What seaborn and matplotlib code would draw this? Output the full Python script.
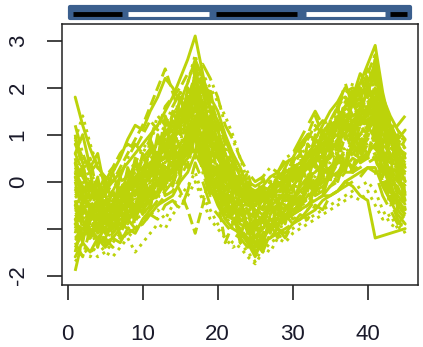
import numpy as np
import pandas as pd
import matplotlib
matplotlib.use("Agg")
import matplotlib.pyplot as plt
import seaborn as sns
from matplotlib.patches import Rectangle

# time points 1..45
time_points = list(range(1, 46))

# standardised expression profiles (one list per gene)
gene_profiles = [
    [1.8, 1.2, 0.7, 0.3, 0.1, 0.0, 0.2, 0.4, 0.6, 0.8, 1.0, 1.2, 1.5, 1.8, 2.2, 2.6, 3.1, 2.3, 1.5, 0.8, 0.3, 0.0, -0.2, -0.4, -0.5, -0.3, -0.2, -0.1, 0.0, 0.1, 0.3, 0.5, 0.7, 0.9, 1.1, 1.3, 1.6, 1.8, 2.1, 2.5, 2.9, 1.9, 1.2, 0.8, 0.5],
    [0.6, 0.2, -0.1, -0.3, -0.2, 0.0, 0.3, 0.6, 0.9, 1.2, 1.6, 2.0, 2.4, 1.9, 1.4, 1.6, 2.0, 1.5, 1.2, 0.9, 0.5, 0.2, 0.0, -0.2, -0.3, -0.2, -0.3, -0.1, 0.1, 0.3, 0.6, 1.0, 1.4, 1.0, 0.8, 1.2, 1.7, 1.5, 1.3, 1.6, 2.0, 1.4, 1.0, 0.7, 0.6],
    [-1.7, -1.5, -1.4, -1.6, -1.5, -1.3, -1.1, -1.2, -1.0, -0.9, -0.7, -0.6, -0.8, -0.5, -0.3, -0.1, 0.2, -0.3, -0.6, -0.9, -1.1, -1.3, -1.4, -1.6, -1.75, -1.5, -1.3, -1.2, -1.1, -1.0, -0.9, -0.8, -0.7, -0.6, -0.5, -0.4, -0.3, -0.2, -0.1, 0.0, -0.2, -0.6, -0.9, -1.0, -0.9],
    [0.1, -0.2, -0.1, -0.4, -0.3, -0.5, -0.2, -0.3, 0.0, 0.1, 0.4, 0.5, 0.8, 0.9, 1.3, 1.4, 1.8, 1.3, 1.0, 0.5, 0.4, 0.0, -0.1, -0.4, -0.3, -0.4, -0.2, -0.3, 0.0, 0.0, 0.2, 0.3, 0.6, 0.5, 0.9, 0.8, 1.2, 1.0, 1.3, 1.2, 1.5, 1.0, 0.8, 0.3, 0.3],
    [-0.5, -0.6, -0.8, -0.9, -0.8, -0.6, -0.5, -0.3, -0.2, 0.0, 0.3, 0.5, 0.7, 0.9, 1.1, 1.3, 1.7, 1.2, 0.8, 0.4, 0.1, -0.1, -0.3, -0.5, -0.6, -0.4, -0.2, 0.0, 0.3, 0.6, 0.9, 1.2, 1.5, 1.2, 1.0, 1.5, 2.1, 1.6, 1.4, 1.6, 1.9, 1.2, 0.7, 0.4, 0.2],
    [-0.9, -1.0, -1.1, -1.2, -1.3, -1.2, -1.0, -0.8, -0.7, -0.5, -0.4, -0.2, 0.0, 0.2, 0.5, 0.7, 1.0, 0.4, -0.1, -0.5, -0.8, -1.0, -1.1, -1.3, -1.4, -1.2, -1.0, -0.9, -0.8, -0.7, -0.6, -0.5, -0.4, -0.3, -0.3, -0.2, 0.0, -0.1, -0.3, -0.4, -1.2, -1.15, -1.1, -1.05, -1.0],
    [-0.7, -0.6, -0.9, -0.8, -1.1, -0.9, -1.0, -0.7, -0.8, -0.4, -0.4, -0.1, 0.1, 0.2, 0.6, 0.7, 1.1, 0.6, 0.4, -0.1, -0.3, -0.6, -0.6, -1.0, -0.9, -1.0, -0.8, -0.9, -0.6, -0.7, -0.4, -0.4, -0.1, 0.0, 0.1, 0.4, 0.4, 0.6, 0.5, 0.8, 0.7, 0.5, 0.0, -0.1, -0.5],
    [-0.3, -0.5, -0.4, -0.7, -0.6, -0.8, -0.5, -0.6, -0.3, -0.3, 0.1, 0.1, 0.5, 0.5, 1.0, 1.0, 1.5, 1.1, 0.5, 0.4, -0.1, -0.1, -0.5, -0.5, -0.8, -0.5, -0.7, -0.4, -0.5, -0.2, -0.3, 0.1, 0.1, 0.4, 0.4, 0.7, 0.7, 0.9, 0.8, 1.1, 1.0, 0.8, 0.3, 0.2, -0.2],
    [1.2, 0.6, 0.2, -0.1, -0.2, -0.1, 0.0, 0.1, 0.3, 0.4, 0.6, 0.8, 1.0, 1.3, 1.5, 1.8, 2.2, 1.7, 1.2, 0.9, 0.6, 0.4, 0.2, 0.0, -0.1, 0.0, 0.0, 0.1, 0.2, 0.3, 0.4, 0.6, 0.8, 0.9, 1.1, 1.2, 1.4, 1.4, 1.5, 1.7, 1.8, 1.3, 1.0, 0.7, 0.5],
    [-1.2, -1.0, -1.1, -1.3, -1.2, -1.4, -1.2, -1.1, -1.0, -0.8, -0.6, -0.4, -0.2, 0.0, 0.3, 0.5, 0.8, 0.4, 0.0, -0.3, -0.6, -0.8, -1.0, -1.2, -1.3, -1.2, -1.2, -1.1, -1.0, -0.9, -0.8, -0.6, -0.4, -0.3, -0.1, 0.0, 0.2, 0.2, 0.3, 0.4, 0.5, 0.1, -0.2, -0.5, -0.7],
    [-0.5, -0.3, -0.6, -0.5, -0.4, -0.6, -0.4, -0.2, -0.1, 0.1, 0.2, 0.4, 0.5, 0.7, 0.8, 1.0, 1.6, 2.0, 1.6, 1.1, 0.6, 0.2, -0.2, -0.4, -0.6, -0.7, -0.5, -0.6, -0.3, -0.4, -0.1, 0.1, 0.2, 0.4, 0.6, 0.9, 1.0, 1.3, 1.2, 1.5, 1.7, 1.2, 0.9, 0.5, 0.3],
    [-1.0, -1.2, -0.9, -1.0, -1.3, -1.1, -0.9, -1.0, -0.8, -0.7, -0.5, -0.5, -0.3, -0.2, 0.1, 0.4, 0.9, 0.5, 0.1, -0.2, -0.4, -0.7, -0.9, -1.0, -1.2, -1.0, -0.9, -1.0, -0.8, -0.7, -0.6, -0.5, -0.3, -0.2, -0.1, 0.1, 0.3, 0.2, 0.4, 0.5, 0.6, 0.2, -0.3, -0.6, -0.8],
    [0.9, 1.4, 0.8, 0.3, -0.1, -0.3, -0.2, -0.4, -0.2, 0.0, 0.2, 0.3, 0.6, 0.8, 1.0, 1.3, 1.6, 1.2, 0.8, 0.3, 0.1, -0.3, -0.4, -0.6, -0.5, -0.6, -0.4, -0.4, -0.2, -0.1, 0.1, 0.2, 0.4, 0.6, 0.7, 0.9, 1.1, 1.0, 1.2, 1.3, 1.4, 0.9, 0.6, 0.2, 0.1],
    [-1.4, -1.1, -1.2, -0.9, -1.0, -0.8, -0.9, -0.7, -0.5, -0.4, -0.2, 0.0, 0.2, 0.4, 0.7, 0.9, 1.3, 0.9, 0.5, 0.1, -0.2, -0.5, -0.7, -0.9, -1.1, -0.9, -0.8, -0.8, -0.6, -0.5, -0.3, -0.2, 0.0, 0.2, 0.3, 0.5, 0.6, 0.7, 0.7, 0.9, 1.2, 0.6, 0.2, -0.2, -0.4],
    [-0.2, -0.4, -0.3, -0.5, -0.6, -0.5, -0.3, -0.4, -0.2, -0.1, 0.1, 0.3, 0.4, 0.6, 0.8, 1.1, 1.2, 0.8, 0.5, 0.2, 0.0, -0.2, -0.3, -0.4, -0.5, -0.4, -0.3, -0.2, -0.1, 0.1, 0.2, 0.4, 0.6, 0.8, 1.0, 1.2, 1.5, 1.6, 1.8, 2.1, 2.4, 1.6, 1.1, 0.6, 0.4],
    [-1.6, -1.3, -1.5, -1.2, -1.4, -1.2, -1.3, -1.0, -1.1, -0.8, -0.7, -0.5, -0.4, -0.3, 0.0, 0.2, 0.6, 0.3, -0.2, -0.4, -0.7, -0.8, -1.1, -1.2, -1.5, -1.3, -1.2, -1.0, -1.1, -0.9, -0.8, -0.7, -0.6, -0.4, -0.3, -0.2, 0.0, 0.1, 0.2, 0.3, 0.3, -0.1, -0.4, -0.7, -0.9],
    [-0.6, -0.8, -0.7, -0.9, -0.8, -0.7, -0.8, -0.6, -0.5, -0.5, -0.3, -0.2, -0.1, 0.1, -0.2, -0.6, -1.1, -0.5, 0.2, -0.4, -1.3, -0.9, -0.7, -0.8, -1.0, -0.8, -0.7, -0.7, -0.5, -0.6, -0.4, -0.3, -0.2, 0.0, 0.2, 0.1, 0.3, 0.5, 0.4, 0.6, 0.5, 0.0, -0.3, -0.4, -0.6],
    [0.3, 0.0, -0.2, -0.3, -0.4, -0.3, -0.1, 0.0, 0.2, 0.3, 0.6, 0.8, 1.1, 1.4, 1.7, 2.1, 2.7, 2.0, 1.3, 0.7, 0.3, 0.0, -0.3, -0.4, -0.6, -0.5, -0.4, -0.3, -0.2, 0.0, 0.1, 0.3, 0.4, 0.6, 0.8, 1.0, 1.3, 1.4, 1.6, 1.9, 2.3, 1.5, 0.9, 0.6, 0.2],
    [-0.8, -0.6, -0.7, -0.6, -0.9, -0.7, -0.6, -0.5, -0.6, -0.2, -0.1, 0.0, 0.3, 0.3, 0.6, 0.9, 1.2, 0.8, 0.3, 0.1, -0.2, -0.4, -0.5, -0.7, -0.7, -0.8, -0.6, -0.5, -0.6, -0.3, -0.3, -0.1, 0.0, 0.2, 0.3, 0.4, 0.6, 0.6, 0.8, 0.8, 0.9, 0.4, 0.1, -0.2, -0.3],
    [0.2, -0.1, -0.3, -0.2, -0.5, -0.4, -0.3, -0.1, 0.0, 0.2, 0.4, 0.5, 0.8, 1.0, 1.2, 1.5, 1.9, 1.4, 0.9, 0.6, 0.2, -0.1, -0.2, -0.4, -0.4, -0.3, -0.4, -0.2, -0.1, 0.1, 0.3, 0.5, 0.7, 0.8, 0.7, 1.0, 1.2, 1.1, 1.3, 1.4, 1.6, 1.2, 1.0, 1.2, 1.4],
    [-0.9, -1.1, -1.0, -1.2, -1.0, -1.0, -0.8, -0.8, -0.6, -0.6, -0.4, -0.3, 0.0, 0.1, 0.4, 0.6, 1.0, 0.6, 0.2, -0.1, -0.5, -0.8, -1.0, -1.3, -1.6, -1.2, -1.0, -0.8, -0.8, -0.6, -0.5, -0.3, -0.2, -0.1, 0.1, 0.2, 0.4, 0.3, 0.5, 0.6, 0.8, 0.3, -0.1, -0.4, -0.6],
    [-0.1, -0.3, -0.5, -0.3, -0.6, -0.4, -0.2, -0.2, 0.1, 0.3, 0.5, 0.6, 0.9, 1.2, 1.4, 1.7, 2.1, 1.5, 1.0, 0.6, 0.2, 0.0, -0.2, -0.3, -0.5, -0.2, -0.3, -0.1, 0.0, 0.2, 0.3, 0.5, 0.7, 0.7, 1.0, 1.1, 1.4, 1.3, 1.5, 1.8, 2.0, 1.4, 0.8, 0.5, 0.0],
    [-1.1, -0.4, -0.9, -0.2, -0.8, -1.2, -0.3, -0.9, 0.1, -0.5, 0.4, -0.2, 0.9, 0.3, 1.5, 0.8, 2.3, 0.9, 1.4, -0.2, 0.3, -0.9, -0.2, -1.1, -0.5, -1.2, -0.3, -0.8, 0.1, -0.6, 0.5, -0.1, 0.9, 0.2, 1.3, 0.5, 1.7, 0.8, 1.9, 0.9, 2.2, 0.3, 0.9, -0.5, 0.2],
    [0.5, -0.3, 0.2, -0.6, 0.0, -0.9, -0.1, -0.5, 0.4, -0.1, 0.8, 0.2, 1.2, 0.5, 1.9, 0.9, 2.4, 1.1, 0.5, 0.9, -0.4, 0.1, -0.7, -0.2, -1.0, -0.1, -0.6, 0.2, -0.4, 0.4, 0.0, 0.8, 0.3, 1.1, 0.6, 1.6, 0.9, 2.0, 0.6, 1.7, 1.3, 1.6, 0.4, 0.9, -0.3],
    [-1.5, -0.8, -1.3, -0.6, -1.1, -0.5, -1.2, -0.3, -0.9, 0.0, -0.6, 0.4, -0.3, 0.8, 0.1, 1.3, 0.6, 1.6, 0.2, 0.7, -0.5, -0.2, -1.2, -0.6, -1.4, -0.7, -1.1, -0.4, -0.9, -0.1, -0.6, 0.2, -0.3, 0.6, 0.0, 0.9, 0.3, 1.3, 0.5, 1.0, 1.4, 0.2, 0.6, -0.6, -0.2],
    [0.8, 0.4, -0.4, 0.1, -0.7, -0.2, -0.5, 0.3, -0.1, 0.6, 0.2, 1.0, 0.6, 1.5, 1.1, 2.0, 1.6, 2.2, 0.8, 1.2, 0.0, 0.4, -0.5, -0.1, -0.8, -0.3, -0.5, 0.0, -0.2, 0.3, 0.1, 0.6, 0.4, 1.0, 0.7, 1.4, 1.1, 1.7, 1.3, 2.1, 1.5, 0.8, 1.1, 0.2, 0.6],
    [-0.4, -1.0, -0.6, -1.3, -0.7, -1.0, -0.4, -0.8, -0.2, -0.5, 0.3, -0.1, 0.6, 0.4, 0.3, 1.2, 1.8, 0.4, 0.9, 0.1, -0.6, -0.3, -0.9, -0.6, -1.2, -0.9, -0.5, -0.8, -0.2, -0.5, 0.0, -0.2, 0.4, 0.1, 0.7, 0.4, 1.0, 0.7, 1.2, 1.0, 1.6, 0.5, 0.1, 0.4, -0.6],
    [-0.2, 0.3, -0.5, -0.1, -1.0, -0.4, -0.7, -0.1, -0.4, 0.2, 0.0, 0.7, 0.3, 1.0, 0.8, 1.6, 2.1, 1.3, 1.8, 0.6, 0.8, -0.1, 0.1, -0.7, -0.3, -0.9, -0.2, -0.5, 0.2, -0.2, 0.4, 0.2, 0.8, 0.5, 1.2, 0.9, 1.5, 1.2, 1.9, 1.5, 2.5, 1.1, 0.5, 0.8, 0.1],
    [-1.3, -1.6, -1.0, -1.4, -0.8, -1.1, -0.6, -0.9, -0.4, -0.7, -0.1, -0.4, 0.2, -0.1, 0.5, 0.3, 1.0, 0.2, -0.3, -0.1, -0.8, -0.6, -1.3, -1.0, -1.5, -1.1, -0.9, -1.2, -0.7, -0.9, -0.4, -0.6, -0.1, -0.3, 0.2, 0.0, 0.5, 0.3, 0.8, 0.6, 1.1, 0.0, -0.4, -0.8, -1.1],
    [0.4, -0.5, 0.0, -0.8, -0.3, -0.6, 0.1, -0.3, 0.5, 0.1, 0.9, 0.5, 1.4, 1.0, 1.8, 1.4, 2.5, 1.9, 1.3, 0.5, 0.7, -0.3, 0.2, -0.5, -0.2, -0.6, 0.0, -0.4, 0.3, 0.0, 0.6, 0.3, 1.0, 0.6, 1.3, 1.0, 1.8, 1.4, 2.2, 1.8, 2.6, 1.7, 1.2, 0.6, 0.9],
    [-0.8, -1.3, -0.5, -1.0, -0.4, -0.8, -0.5, -0.2, -0.6, 0.1, -0.3, 0.5, 0.0, 0.8, 0.4, 0.6, 1.4, 0.9, 0.0, 0.3, -0.3, -0.7, -0.4, -1.0, -0.8, -1.4, -0.7, -0.5, -0.9, -0.3, -0.6, 0.0, -0.3, 0.3, 0.1, 0.6, 0.2, 0.9, 0.4, 1.2, 0.9, 0.6, -0.2, 0.2, -0.4],
    [1.0, 0.2, 0.5, -0.3, 0.1, -0.5, -0.2, 0.2, 0.0, 0.5, 0.3, 0.9, 0.7, 1.3, 1.0, 1.7, 2.3, 1.6, 2.0, 1.0, 0.4, 0.6, -0.1, 0.2, -0.4, 0.1, -0.3, 0.2, 0.0, 0.5, 0.2, 0.8, 0.6, 1.1, 0.8, 1.5, 1.2, 1.9, 1.7, 2.3, 2.7, 1.3, 0.9, 1.0, 0.7],
    [-0.6, -0.2, -1.1, -0.5, -1.4, -0.9, -1.1, -0.6, -0.9, -0.3, -0.5, 0.1, -0.2, 0.5, 0.2, 0.9, 0.5, 1.2, 0.4, -0.2, -0.7, -1.0, -0.8, -1.3, -1.1, -0.7, -1.0, -0.6, -0.8, -0.3, -0.5, 0.0, -0.2, 0.4, 0.0, 0.7, 0.4, 1.0, 0.7, 0.5, 1.1, 0.1, -0.5, -0.3, -0.8],
    [0.0, -0.7, -0.3, -1.0, -0.5, -0.2, -0.6, 0.0, -0.3, 0.3, 0.1, 0.6, 0.4, 1.1, 0.7, 1.5, 1.9, 1.1, 0.6, 0.3, -0.2, 0.1, -0.5, -0.2, -0.7, -0.4, -0.1, -0.5, 0.1, -0.2, 0.3, 0.0, 0.6, 0.3, 0.9, 0.6, 1.3, 0.9, 1.6, 1.2, 1.8, 0.9, 0.5, 0.0, 0.4],
    [-1.9, -1.2, -0.8, -1.1, -0.6, -1.0, -0.7, -0.4, -0.8, -0.2, -0.5, 0.2, -0.1, 0.5, 0.3, 0.8, 1.3, 0.5, 0.1, -0.4, -0.2, -0.9, -0.6, -1.1, -0.9, -1.3, -0.8, -1.0, -0.5, -0.8, -0.3, -0.5, 0.0, -0.2, 0.3, 0.1, 0.6, 0.2, 0.9, 0.5, 1.3, 0.7, 0.0, -0.5, -0.7],
    [0.6, 1.0, 0.3, 0.6, -0.2, 0.2, -0.3, 0.0, 0.4, 0.2, 0.7, 0.5, 1.1, 0.8, 1.5, 1.3, 2.0, 1.5, 1.1, 0.8, 0.3, 0.0, -0.3, 0.0, -0.4, -0.1, -0.5, 0.0, -0.2, 0.2, 0.0, 0.4, 0.6, 0.4, 0.9, 1.0, 1.3, 1.1, 1.6, 1.4, 2.0, 1.5, 1.2, 0.9, 1.1],
    [-1.0, -0.5, -0.8, -0.4, -0.9, -0.6, -1.0, -0.5, -0.7, -0.3, -0.2, 0.2, 0.0, 0.3, 0.4, 0.7, 1.1, 0.7, 0.3, 0.1, -0.1, -0.4, -0.6, -0.9, -1.0, -0.8, -1.1, -0.7, -0.8, -0.5, -0.4, -0.2, 0.1, 0.0, 0.3, 0.5, 0.5, 0.7, 1.0, 1.1, 1.3, 0.8, 0.3, 0.0, -0.2],
    [0.2, -0.6, -0.2, -0.5, -1.0, -0.7, -0.4, -0.7, -0.1, 0.0, 0.4, 0.2, 0.8, 0.7, 1.2, 1.0, 1.7, 1.3, 0.7, 0.3, 0.0, -0.3, -0.1, -0.6, -0.8, -0.5, -0.6, -0.3, -0.4, -0.1, 0.0, 0.2, 0.5, 0.3, 0.6, 0.9, 1.1, 1.2, 1.4, 1.3, 1.7, 1.1, 0.5, 0.3, -0.1],
    [-0.5, -0.9, -1.2, -0.8, -0.6, -1.0, -0.7, -0.9, -0.5, -0.6, -0.1, -0.3, 0.3, 0.2, 0.5, 0.8, 1.3, 0.9, 0.4, 0.0, -0.4, -0.5, -0.8, -0.9, -1.2, -1.0, -0.8, -0.9, -0.7, -0.6, -0.5, -0.3, -0.1, 0.1, 0.2, 0.4, 0.7, 0.6, 0.8, 1.0, 1.1, 0.6, 0.2, -0.3, -0.5],
    [0.0, 0.3, -0.2, -0.2, -0.4, -0.2, 0.1, -0.1, 0.3, 0.5, 0.7, 0.6, 1.0, 1.1, 1.3, 1.6, 2.0, 1.7, 1.0, 0.7, 0.4, 0.1, 0.0, -0.2, -0.3, -0.1, -0.2, 0.1, 0.0, 0.3, 0.4, 0.5, 0.9, 0.8, 1.0, 1.3, 1.4, 1.7, 1.6, 2.0, 2.2, 1.7, 1.3, 0.8, 0.8],
    [0.4, 0.1, -0.2, 0.0, -0.3, 0.2, 0.5, 0.9, 1.2, 1.1, 1.5, 1.8, 2.2, 2.0, 1.7, 2.1, 2.6, 2.2, 1.8, 1.5, 1.0, 0.6, 0.3, -0.1, -0.2, -0.1, 0.1, 0.2, 0.4, 0.5, 0.8, 1.0, 0.9, 1.2, 1.5, 1.7, 2.0, 1.8, 2.3, 2.1, 2.5, 1.8, 1.4, 1.1, 0.9],
    [-0.3, -0.1, -0.4, -0.2, 0.1, 0.3, 0.6, 0.8, 0.7, 1.0, 1.3, 1.1, 1.6, 1.8, 2.0, 2.3, 2.4, 2.1, 1.7, 1.3, 0.8, 0.5, 0.1, -0.2, -0.4, -0.3, -0.1, 0.0, 0.2, 0.4, 0.7, 0.9, 1.2, 1.0, 1.3, 1.6, 1.9, 2.0, 1.8, 2.2, 2.3, 1.5, 1.1, 0.5, 0.3],
    [-1.2, -1.4, -1.6, -1.3, -1.5, -1.6, -1.4, -1.2, -1.5, -1.3, -1.1, -0.9, -1.0, -0.7, -0.5, -0.3, 0.0, -0.4, -0.8, -1.0, -1.2, -1.4, -1.3, -1.5, -1.7, -1.4, -1.5, -1.2, -1.3, -1.1, -1.0, -0.9, -0.8, -0.7, -0.6, -0.5, -0.4, -0.3, -0.4, -0.2, -0.5, -0.8, -0.7, -1.0, -0.8],
    [0.9, 0.5, 0.2, 0.4, 0.0, 0.3, 0.1, 0.5, 0.8, 0.6, 0.9, 1.4, 1.2, 1.6, 1.9, 1.8, 2.2, 2.5, 2.2, 1.8, 1.2, 0.9, 0.5, 0.2, 0.0, 0.1, 0.3, 0.2, 0.5, 0.6, 0.7, 1.0, 1.1, 1.3, 1.2, 1.6, 1.8, 1.7, 2.0, 2.4, 2.1, 1.7, 1.2, 0.9, 0.7],
    [-0.4, -0.8, -0.6, -1.0, -1.2, -0.9, -1.1, -0.8, -1.0, -0.9, -0.7, -0.8, -0.5, -0.4, -0.6, -0.2, 0.4, 0.0, -0.5, -0.7, -0.9, -1.1, -1.2, -1.4, -1.3, -1.5, -1.1, -1.0, -1.2, -0.9, -0.7, -0.8, -0.5, -0.6, -0.3, -0.2, -0.1, 0.0, 0.1, 0.3, 0.2, -0.3, -0.6, -0.9, -0.7],
    [0.1, -0.3, -0.6, -0.4, -0.7, -0.5, -0.6, -0.4, -0.5, -0.1, 0.2, 0.5, 0.7, 1.0, 1.2, 1.5, 2.3, 2.0, 1.6, 1.3, 0.9, 0.5, 0.1, -0.3, -0.4, -0.6, -0.5, -0.4, -0.3, -0.1, 0.1, 0.3, 0.5, 0.7, 1.0, 1.2, 1.6, 1.9, 2.0, 1.8, 2.6, 1.4, 0.9, 0.4, 0.0],
    [-0.7, -0.9, -0.8, -0.6, -0.9, -0.8, -0.5, -0.4, -0.2, -0.4, 0.0, 0.1, 0.4, 0.6, 0.5, 0.9, 1.4, 1.2, 0.8, 0.5, 0.2, -0.2, -0.5, -0.6, -0.9, -0.7, -0.6, -0.7, -0.4, -0.4, -0.2, 0.0, 0.2, 0.4, 0.5, 0.8, 0.9, 1.1, 1.0, 1.3, 1.5, 1.0, 0.6, 0.1, -0.1],
    [0.2, 0.5, 0.0, -0.3, -0.1, -0.4, -0.2, 0.2, 0.4, 0.7, 0.9, 1.2, 1.1, 1.4, 1.7, 1.9, 2.0, 2.3, 2.0, 1.7, 1.4, 1.0, 0.5, 0.0, -0.3, -0.2, 0.0, 0.2, 0.1, 0.4, 0.6, 0.7, 1.0, 0.9, 1.1, 1.4, 1.6, 2.1, 1.9, 2.3, 2.0, 1.6, 1.3, 1.1, 0.8],
]

# condition blocks shown in the bar above the plot
block_start = [0.7, 8.0, 19.8, 31.8, 43.0]
block_end = [7.2, 18.9, 30.6, 42.3, 45.2]
block_color = ["black", "white", "black", "white", "black"]

y_ticks = [-2, -1, 0, 1, 2, 3]
y_ticklabels = ["-2", "", "0", "1", "2", "3"]
x_ticks = [0, 10, 20, 30, 40]

line_color = "#bcd30a"
line_styles = ["-", "--", ":", "-.", (0, (8, 3))]

df = pd.DataFrame({
    "time": np.tile(time_points, len(gene_profiles)),
    "value": np.concatenate(gene_profiles),
    "gene": np.repeat(np.arange(len(gene_profiles)), len(time_points)),
})

sns.set_style("white")
plt.rcParams["font.family"] = ["Liberation Sans", "DejaVu Sans"]

fig = plt.figure(figsize=(4.23, 3.47), dpi=100)
ax = fig.add_axes([62 / 423, 1 - 285 / 347, (418.4 - 62) / 423, (285 - 23.5) / 347])

for g, sub in df.groupby("gene"):
    sns.lineplot(data=sub, x="time", y="value", ax=ax, color=line_color,
                 linewidth=2.1, linestyle=line_styles[g % len(line_styles)],
                 estimator=None, legend=False)

ax.set_xlim(-0.76, 46.76)
ax.set_ylim(-2.20, 3.366)
ax.set_xticks(x_ticks)
ax.set_yticks(y_ticks)
ax.set_yticklabels(y_ticklabels, rotation=90, va="center")
ax.set_xlabel("")
ax.set_ylabel("")
ax.tick_params(axis="both", direction="out", length=11, width=1.2, color="#222222",
               labelsize=16, labelcolor="#1a1a2a", left=True, bottom=True)
ax.tick_params(axis="x", pad=17)
ax.tick_params(axis="y", pad=13)
for s in ax.spines.values():
    s.set_visible(True)
    s.set_color("#222222")
    s.set_linewidth(1.1)

# condition bar (blue frame with black / white blocks)
bar = Rectangle((0.31, 3.483), 45.33, 0.235, facecolor="#3b5f8e", edgecolor="#3b5f8e",
                linewidth=3, joinstyle="round", clip_on=False)
ax.add_patch(bar)
for s0, s1, c in zip(block_start, block_end, block_color):
    ax.plot([s0, s1], [3.578, 3.578], color=c, linewidth=3.5,
            solid_capstyle="butt", clip_on=False)

fig.savefig("out.png", dpi=100)
